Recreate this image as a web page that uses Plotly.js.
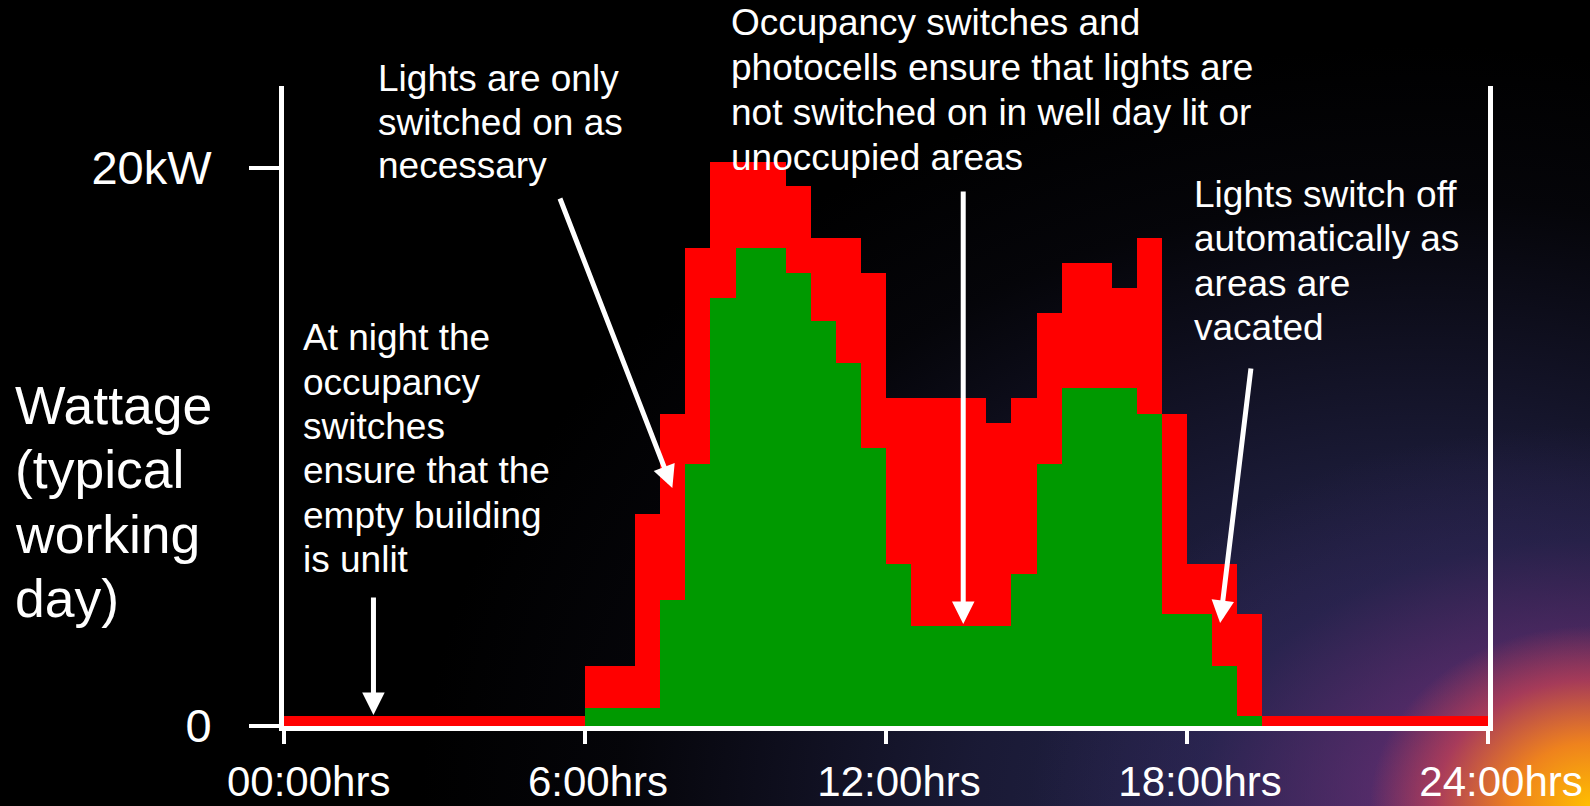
<!DOCTYPE html>
<html>
<head>
<meta charset="utf-8">
<script src="https://cdn.plot.ly/plotly-3.0.1.min.js"></script>
<style>
  html, body { margin:0; padding:0; width:1590px; height:806px; overflow:hidden; }
  body {
    background:
      radial-gradient(ellipse 220px 180px at 1590px 806px, rgba(255,190,0,1) 0%, rgba(245,135,25,0.95) 35%, rgba(215,70,80,0.6) 70%, rgba(160,50,110,0) 100%),
      radial-gradient(ellipse 560px 380px at 1590px 806px, rgba(150,45,120,0.85) 0%, rgba(105,45,115,0.65) 40%, rgba(55,40,95,0.4) 70%, rgba(30,30,60,0) 100%),
      radial-gradient(ellipse 1000px 760px at 1420px 806px, rgba(44,44,92,0.95) 0%, rgba(32,32,66,0.8) 45%, rgba(14,14,26,0.35) 80%, rgba(0,0,0,0) 100%),
      #000;
  }
  #chart { width:1590px; height:806px; }
</style>
</head>
<body>
<div id="chart"></div>
<script>
// Half-hour slots across a typical working day
const slotHours = Array.from({length: 48}, (_, i) => i * 0.5);

// Wattage (kW) per half hour without controls (red)
const wattsWithoutControls = [
  0.35, 0.35, 0.35, 0.35, 0.35, 0.35, 0.35, 0.35, 0.35, 0.35, 0.35, 0.35,
  2.15, 2.15, 7.6, 11.2, 17.15, 20.2, 20.2, 20.2, 19.35, 17.5, 17.5, 16.25,
  11.75, 11.75, 11.75, 11.75, 10.85, 11.75, 14.8, 16.6, 16.6, 15.7, 17.5, 11.2,
  5.8, 5.8, 4.0, 0.35, 0.35, 0.35, 0.35, 0.35, 0.35, 0.35, 0.35, 0.35
];

// Wattage (kW) per half hour with occupancy switches and photocells (green)
const wattsWithControls = [
  0, 0, 0, 0, 0, 0, 0, 0, 0, 0, 0, 0,
  0.65, 0.65, 0.65, 4.5, 9.4, 15.35, 17.15, 17.15, 16.25, 14.5, 13.0, 9.95,
  5.8, 3.6, 3.6, 3.6, 3.6, 5.45, 9.4, 12.1, 12.1, 12.1, 11.2, 4.0,
  4.0, 2.15, 0.35, 0, 0, 0, 0, 0, 0, 0, 0, 0
];

const xTickVals = [0, 6, 12, 18, 24];
const xTickText = ['\u00a0\u00a000:00hrs', '6:00hrs', '12:00hrs', '18:00hrs', '24:00hrs'];
const yTickVals = [0, 20];
const yTickText = ['0', '20kW'];

const yTitleLines = ['Wattage', '(typical', 'working', 'day)'];
const noteNight = ['At night the', 'occupancy', 'switches', 'ensure that the', 'empty building', 'is unlit'];
const noteNecessary = ['Lights are only', 'switched on as', 'necessary'];
const noteDaylight = ['Occupancy switches and', 'photocells ensure that lights are', 'not switched on in well day lit or', 'unoccupied areas'];
const noteVacated = ['Lights switch off', 'automatically as', 'areas are', 'vacated'];

// ---- layout geometry (pixels) ----
const W = 1590, H = 806;
const M = {l: 283.5, r: 102, t: 86, b: 80};
const plotW = W - M.l - M.r, plotH = H - M.t - M.b;
const Y_MAX = 22.94;
const FONT = 'Liberation Sans, Arial, Helvetica, sans-serif';

function px2paperX(px) { return (px - M.l) / plotW; }
function px2paperY(py) { return (H - M.b - py) / plotH; }
function px2dataX(px) { return (px - M.l) / plotW * 24; }
function px2dataY(py) { return (H - M.b - py) / plotH * Y_MAX; }

function textBlock(lines, leftPx, firstCenterPx, spacingPx, size) {
  return lines.map((t, i) => ({
    text: t, xref: 'paper', yref: 'paper',
    x: px2paperX(leftPx), y: px2paperY(firstCenterPx + i * spacingPx),
    xanchor: 'left', yanchor: 'middle', showarrow: false,
    font: {family: FONT, size: size, color: '#ffffff'}
  }));
}
function arrow(tailX, tailY, tipX, tipY) {
  return {
    text: '', xref: 'x', yref: 'y', axref: 'x', ayref: 'y',
    x: px2dataX(tipX), y: px2dataY(tipY),
    ax: px2dataX(tailX), ay: px2dataY(tailY),
    showarrow: true, arrowhead: 2, arrowsize: 0.9, arrowwidth: 5,
    arrowcolor: '#ffffff', standoff: 0, startstandoff: 0
  };
}

const annotations = [].concat(
  textBlock(yTitleLines, 12, 405.6, 64.2, 53.5),
  textBlock(noteNight, 301, 337.7, 44.4, 37),
  textBlock(noteNecessary, 376, 78.5, 43.6, 37),
  textBlock(noteDaylight, 729, 22.5, 44.9, 37),
  textBlock(noteVacated, 1191.5, 194.7, 44.3, 37),
  [
    arrow(373, 596, 373, 715),
    arrow(559, 197, 672, 488),
    arrow(963, 190, 963, 624),
    arrow(1251, 367, 1220, 623)
  ]
);

const traces = [
  {
    type: 'bar', x: slotHours, y: wattsWithoutControls, offset: 0, width: 0.5,
    marker: {color: '#ff0000', line: {width: 0}}, name: 'Without controls', hoverinfo: 'y'
  },
  {
    type: 'bar', x: slotHours, y: wattsWithControls, offset: 0, width: 0.5,
    marker: {color: '#009900', line: {width: 0}}, name: 'With controls', hoverinfo: 'y'
  }
];

const layout = {
  width: W, height: H,
  margin: M,
  paper_bgcolor: 'rgba(0,0,0,0)',
  plot_bgcolor: 'rgba(0,0,0,0)',
  barmode: 'overlay',
  bargap: 0,
  showlegend: false,
  xaxis: {
    range: [0, 24], fixedrange: true,
    tickmode: 'array', tickvals: xTickVals, ticktext: xTickText,
    ticks: 'outside', ticklen: 13, tickwidth: 4, tickcolor: '#ffffff',
    showline: true, linecolor: '#ffffff', linewidth: 5,
    showgrid: false, zeroline: false,
    tickfont: {family: FONT, size: 42, color: '#ffffff'},
    ticklabelstandoff: 2, ticklabelshift: 13
  },
  yaxis: {
    range: [0, Y_MAX], fixedrange: true,
    tickmode: 'array', tickvals: yTickVals, ticktext: yTickText,
    ticks: 'outside', ticklen: 30, tickwidth: 4, tickcolor: '#ffffff',
    showline: true, linecolor: '#ffffff', linewidth: 5, mirror: true,
    showgrid: false, zeroline: false,
    tickfont: {family: FONT, size: 47, color: '#ffffff'},
    ticklabelstandoff: 28
  },
  annotations: annotations
};

Plotly.newPlot('chart', traces, layout, {staticPlot: true, displayModeBar: false});
</script>
</body>
</html>
